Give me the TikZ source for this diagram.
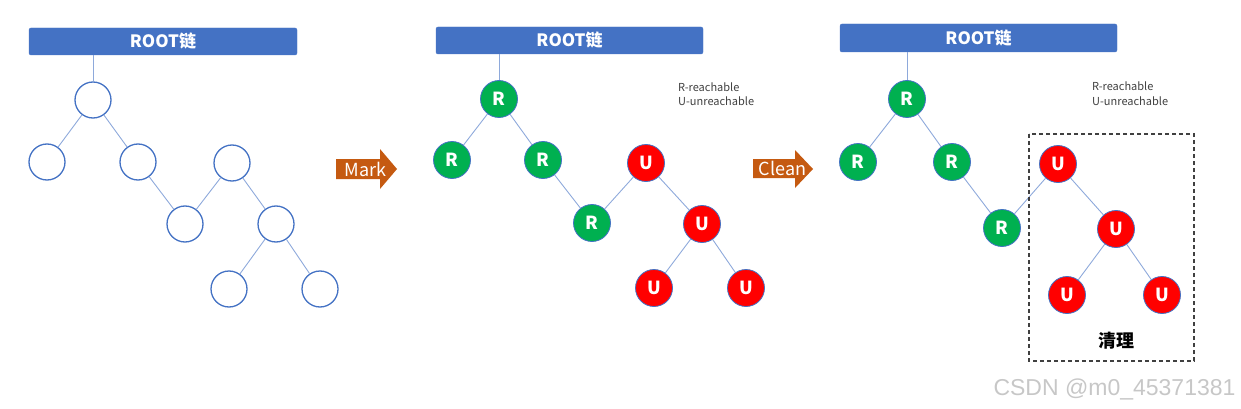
\documentclass[tikz,border=0pt]{standalone}
\usepackage{fontspec}
\setmainfont{Noto Sans CJK SC}
\newfontfamily\wmfont{Liberation Sans}
\definecolor{barblue}{HTML}{4472C4}
\definecolor{edgeblue}{HTML}{8EA9DB}
\definecolor{gnode}{HTML}{00B050}
\definecolor{rnode}{HTML}{FF0000}
\definecolor{arrorange}{HTML}{C55A11}
\definecolor{legendgray}{HTML}{404040}
\tikzset{
  rootbar/.style={fill=barblue, draw=barblue, rounded corners=2pt, text=white, font=\fontsize{17}{17}\selectfont\bfseries},
  emptynode/.style={circle, draw=barblue, line width=1.3pt, fill=white, minimum size=36pt, inner sep=0pt},
  rnodest/.style={circle, draw=barblue, line width=0.8pt, fill=gnode, minimum size=37pt, inner sep=0pt, text=white, font=\fontsize{18}{18}\selectfont\bfseries},
  unodest/.style={circle, draw=barblue, line width=0.8pt, fill=rnode, minimum size=37pt, inner sep=0pt, text=white, font=\fontsize{18}{18}\selectfont\bfseries},
  link/.style={draw=edgeblue, line width=0.9pt},
  legend/.style={anchor=west, text=legendgray, font=\fontsize{11}{11}\selectfont, inner sep=0pt},
  arrtext/.style={text=white, font=\fontsize{18}{18}\selectfont, inner sep=0pt},
}
\begin{document}
\begin{tikzpicture}[x=1pt, y=-1pt]
\useasboundingbox (0,0) rectangle (1241,409);
% ---------------- Tree 1 ----------------
\node[rootbar, minimum width=268pt, minimum height=27pt, inner sep=0pt] (bar1) at (163,41.5) {ROOT链};
\node[emptynode] (a1) at (93,100) {};
\node[emptynode] (a2) at (47,162) {};
\node[emptynode] (a3) at (138,162) {};
\node[emptynode] (a4) at (232,163) {};
\node[emptynode] (a5) at (185,224) {};
\node[emptynode] (a6) at (276,224) {};
\node[emptynode] (a7) at (229,289) {};
\node[emptynode] (a8) at (320,289) {};
\draw[link] (bar1.south -| a1) -- (a1);
\draw[link] (a1) -- (a2);
\draw[link] (a1) -- (a3);
\draw[link] (a3) -- (a5);
\draw[link] (a5) -- (a4);
\draw[link] (a4) -- (a6);
\draw[link] (a6) -- (a7);
\draw[link] (a6) -- (a8);
% ---------------- Mark arrow ----------------
\fill[arrorange] (336,159) -- (380,159) -- (380,149) -- (397,169) -- (380,189) -- (380,179) -- (336,179) -- cycle;
\node[arrtext] (mark) at (365.5,169.5) {Mark};
% ---------------- Tree 2 ----------------
\node[rootbar, minimum width=267pt, minimum height=27pt, inner sep=0pt] (bar2) at (569.5,40.5) {ROOT链};
\node[rnodest] (b1) at (499,99) {R};
\node[rnodest] (b2) at (452,160) {R};
\node[rnodest] (b3) at (543,160) {R};
\node[unodest] (b4) at (646,163) {U};
\node[rnodest] (b5) at (592,223) {R};
\node[unodest] (b6) at (702,224) {U};
\node[unodest] (b7) at (654,288) {U};
\node[unodest] (b8) at (746,288) {U};
\draw[link] (bar2.south -| b1) -- (b1);
\draw[link] (b1) -- (b2);
\draw[link] (b1) -- (b3);
\draw[link] (b3) -- (b5);
\draw[link] (b5) -- (b4);
\draw[link] (b4) -- (b6);
\draw[link] (b6) -- (b7);
\draw[link] (b6) -- (b8);
\node[legend] (leg2a) at (678,87) {R-reachable};
\node[legend] (leg2b) at (678,101) {U-unreachable};
% ---------------- Clean arrow ----------------
\fill[arrorange] (753,159) -- (795,159) -- (795,150) -- (813,169) -- (795,188) -- (795,178) -- (753,178) -- cycle;
\node[arrtext] (clean) at (782.5,168.5) {Clean};
% ---------------- Tree 3 ----------------
\node[rootbar, minimum width=277pt, minimum height=28pt, inner sep=0pt] (bar3) at (978.5,38) {ROOT链};
\node[rnodest] (c1) at (907,99) {R};
\node[rnodest] (c2) at (858,162) {R};
\node[rnodest] (c3) at (952,162) {R};
\node[unodest] (c4) at (1058,164) {U};
\node[rnodest] (c5) at (1002,228) {R};
\node[unodest] (c6) at (1116,229) {U};
\node[unodest] (c7) at (1067,295) {U};
\node[unodest] (c8) at (1162,295) {U};
\draw[link] (bar3.south -| c1) -- (c1);
\draw[link] (c1) -- (c2);
\draw[link] (c1) -- (c3);
\draw[link] (c3) -- (c5);
\draw[link] (c5) -- (c4);
\draw[link] (c4) -- (c6);
\draw[link] (c6) -- (c7);
\draw[link] (c6) -- (c8);
\node[legend] (leg3a) at (1092,86) {R-reachable};
\node[legend] (leg3b) at (1092,101) {U-unreachable};
\draw[line width=1.2pt, draw=black!75, dash pattern=on 4pt off 3pt] (1029,134) rectangle (1194,361);
\node[font=\fontsize{18}{18}\selectfont\bfseries, inner sep=0pt] (cleanlbl) at (1116,341) {清理};
% ---------------- watermark ----------------
\node[font=\wmfont\fontsize{23}{23}\selectfont, text=black!22, inner sep=0pt] (wm) at (1114.5,389) {CSDN @m0\_45371381};
\end{tikzpicture}
\end{document}
